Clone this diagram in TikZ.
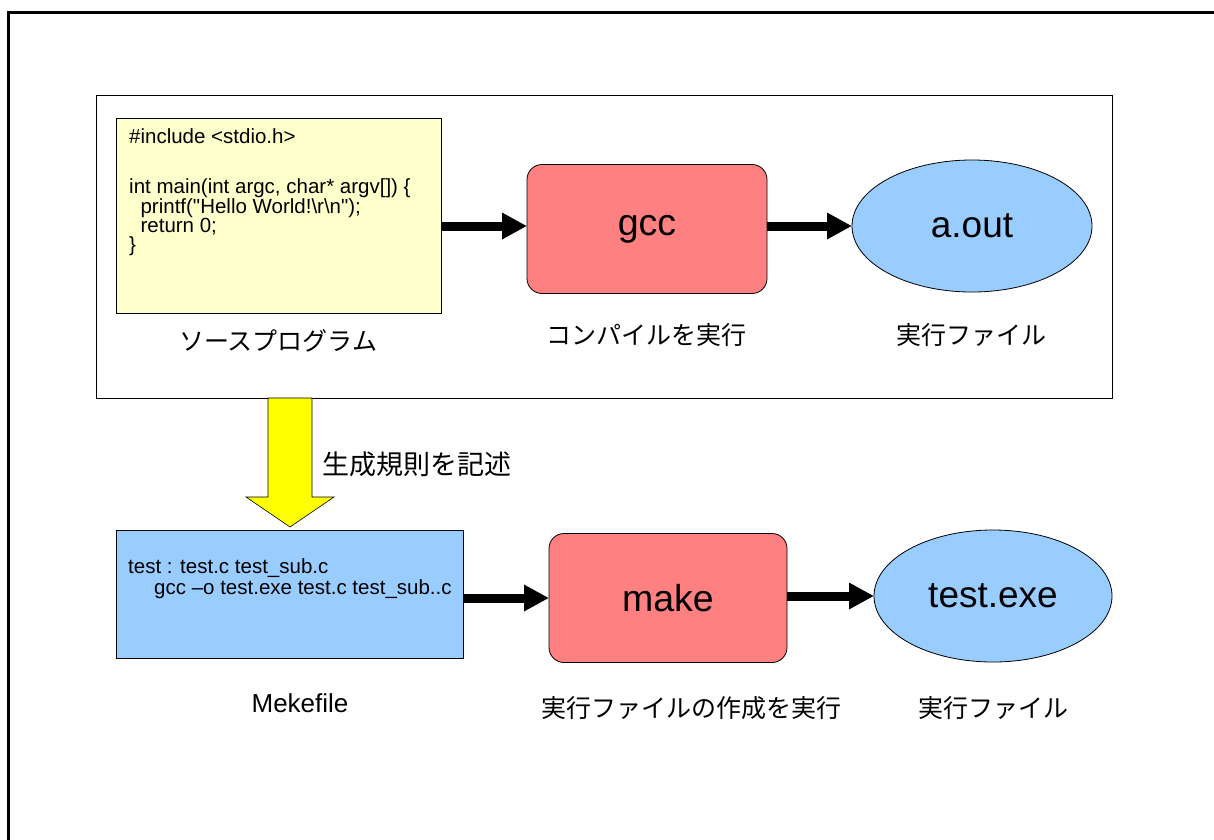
\documentclass[tikz,border=0pt]{standalone}
\usepackage{fontspec}
\setmainfont{Liberation Sans}
\newfontfamily\codefont{Liberation Sans}[Ligatures=TeXOff]
\newfontfamily\jpfont{Noto Sans CJK JP}
\usetikzlibrary{arrows.meta,shapes.geometric}
\definecolor{codeyellow}{HTML}{FFFFCC}
\definecolor{toolred}{HTML}{FF8080}
\definecolor{fileblue}{HTML}{99CCFF}
\definecolor{ruleyellow}{HTML}{FFFF00}
\tikzset{
  x=1pt, y=-1pt,
  box/.style={draw=black, line width=0.8pt, inner sep=0pt, outer sep=0pt},
  codebox/.style={box, rectangle, anchor=north west},
  codetext/.style={anchor=north west, align=left, inner sep=0pt},
  toolbox/.style={box, rectangle, rounded corners=15pt, fill=toolred,
    font=\fontsize{37.5}{42}\selectfont},
  filenode/.style={box, ellipse, fill=fileblue,
    font=\fontsize{37}{42}\selectfont},
  caption/.style={font=\jpfont\fontsize{25}{29}\selectfont, inner sep=0pt},
  flow/.style={line width=9pt, -{Triangle[length=25pt,width=25pt]}},
}
\begin{document}
\begin{tikzpicture}
\useasboundingbox (0,0) rectangle (1214,839);
% outer frame (open on the right and at the bottom)
\draw[line width=3pt] (8.5,845) -- (8.5,12) -- (1220,12);
% group frame around the compile step
\node[codebox, fill=white, minimum width=1016pt, minimum height=303pt] (group) at (96,95) {};

% source program
\node[codebox, fill=codeyellow, minimum width=325pt, minimum height=195pt] (src) at (116,118) {};
\node[codetext, font=\codefont\fontsize{20.5}{19}\selectfont]
  (srctext) at (129,128) {\#include <stdio.h>\\[31pt]
  int main(int argc, char* argv[]) \{\\
  \ \ printf("Hello World!\textbackslash r\textbackslash n");\\
  \ \ return 0;\\
  \}};

\node[toolbox, minimum width=240pt, minimum height=129pt] (gcc) at (647,229) {gcc};
\node[filenode, minimum width=240pt, minimum height=132pt] (aout) at (972,226) {a.out};

\draw[flow] (src.east |- aout.center) -- (gcc.west |- aout.center);
\draw[flow] (gcc.east |- aout.center) -- (aout.west);

\node[caption] (c1) at (278,341) {ソースプログラム};
\node[caption] (c2) at (646,335) {コンパイルを実行};
\node[caption] (c3) at (971,335) {実行ファイル};

% rule description arrow
\coordinate (ruletip) at (290,527);
\fill[ruleyellow, draw=black, line width=0.6pt]
  (268,398) -- (312,398) -- (312,497) -- (334,497) -- (ruletip)
  -- (246,497) -- (268,497) -- cycle;
\node[caption, font=\jpfont\fontsize{27}{31}\selectfont, anchor=west] (c4) at (322,464) {生成規則を記述};

% makefile
\node[codebox, fill=fileblue, minimum width=347pt, minimum height=128pt] (mk) at (116,530) {};
\node[codetext, font=\codefont\fontsize{20.5}{21}\selectfont]
  (mktext) at (128,558) {test : test.c test\_sub.c\\
  \hspace*{26pt}gcc \textendash o test.exe test.c test\_sub..c};

\node[toolbox, minimum width=238pt, minimum height=129pt] (make) at (668,598) {make};
\node[filenode, minimum width=238pt, minimum height=132pt] (texe) at (993,596) {test.exe};

\draw[flow] (mk.east |- make.center) -- (make.west);
\draw[flow] (make.east |- texe.center) -- (texe.west);

\node[caption, font=\fontsize{26}{30}\selectfont] (c5) at (300,703) {Mekefile};
\node[caption] (c6) at (691,708) {実行ファイルの作成を実行};
\node[caption] (c7) at (993,708) {実行ファイル};
\end{tikzpicture}
\end{document}
